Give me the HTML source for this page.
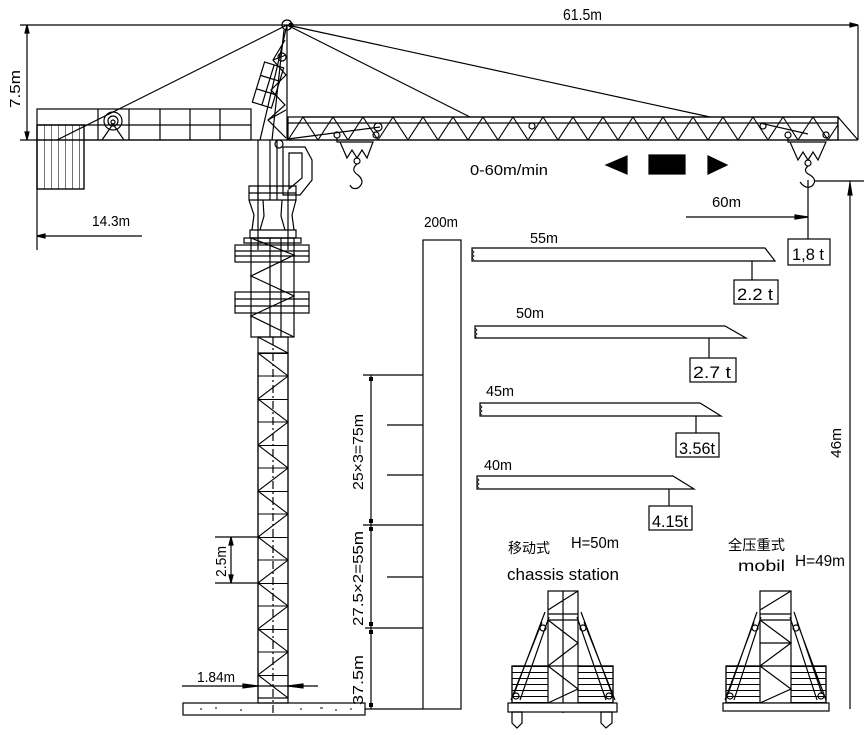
<!DOCTYPE html>
<html><head><meta charset="utf-8"><style>
html,body{margin:0;padding:0;background:#fff}
svg{display:block}
text{font-family:"Liberation Sans Narrow","Liberation Sans",sans-serif;fill:#000}
.cj{font-family:"Liberation Sans","Noto Sans CJK SC",sans-serif}
</style></head><body>
<svg width="864" height="735" viewBox="0 0 864 735" xmlns="http://www.w3.org/2000/svg" stroke="#000" stroke-width="1.2" fill="none">
<defs>
<pattern id="jib" patternUnits="userSpaceOnUse" x="288" y="117" width="30" height="23"><path d="M0,23 L15,0 L30,23" stroke="#000" stroke-width="1.1" fill="none"/></pattern>
<pattern id="mast" patternUnits="userSpaceOnUse" x="258" y="353" width="30" height="46"><path d="M0,0 L30,23 L0,46 M0,0.5 H30 M0,23 H30" stroke="#000" stroke-width="1.1" fill="none"/></pattern>
<pattern id="cw" patternUnits="userSpaceOnUse" x="37" y="0" width="7" height="10"><path d="M0,0 V10" stroke="#000" stroke-width="1.1"/></pattern>
<pattern id="bal" patternUnits="userSpaceOnUse" x="0" y="666" width="10" height="6"><path d="M0,0.5 H10" stroke="#000" stroke-width="1"/></pattern>
</defs>

<!-- top dimension -->
<line x1="20" y1="25" x2="858" y2="25"/>
<line x1="858" y1="25" x2="858" y2="140"/>
<path d="M850,23 L858,25 L850,27Z" fill="#000"/>
<text x="563" y="20" font-size="16" stroke="none" textLength="39" lengthAdjust="spacingAndGlyphs">61.5m</text>
<line x1="27" y1="25" x2="27" y2="140"/>
<path d="M25,33 L27,25 L29,33Z M25,132 L27,140 L29,132Z" fill="#000"/>
<text transform="translate(20,108) rotate(-90)" font-size="15" stroke="none" textLength="38" lengthAdjust="spacingAndGlyphs">7.5m</text>

<!-- main horizontal line -->
<line x1="20" y1="140" x2="858" y2="140"/>

<!-- counter jib -->
<rect x="37" y="109" width="214" height="31"/>
<line x1="37" y1="125" x2="251" y2="125"/>
<path d="M98,109V140 M129,109V140 M160,109V140 M190,109V140 M220,109V140"/>
<rect x="37" y="125" width="47" height="64" fill="url(#cw)"/>
<rect x="37" y="125" width="47" height="64"/>
<circle cx="113" cy="121" r="9"/><circle cx="113" cy="121" r="5"/><circle cx="113" cy="122" r="2"/>
<path d="M102,140 L113,124 L124,140"/>
<line x1="37" y1="140" x2="37" y2="250"/>
<line x1="37" y1="236" x2="142" y2="236"/>
<path d="M45,234 L37,236 L45,238Z" fill="#000"/>
<text x="92" y="226" font-size="15" stroke="none" textLength="38" lengthAdjust="spacingAndGlyphs">14.3m</text>

<!-- ties -->
<line x1="287" y1="25" x2="57" y2="140"/>
<line x1="287" y1="25" x2="470" y2="117"/>
<line x1="287" y1="25" x2="710" y2="117"/>
<circle cx="287" cy="25" r="5"/>
<circle cx="291" cy="25" r="2" fill="#000"/>

<!-- tower head -->
<line x1="287" y1="25" x2="287" y2="140"/>
<line x1="287" y1="25" x2="260" y2="140"/>
<line x1="284" y1="30" x2="272" y2="140"/>
<path d="M285,40 L273,60 L286,75 L271,90 L285,105 L268,120 L286,138 M268,120 L286,110 M273,60 L286,55"/>
<circle cx="282" cy="57" r="4"/>
<g transform="rotate(17 268 85)"><rect x="258" y="64" width="20" height="42"/><path d="M258,78H278 M258,92H278 M268,64V106"/></g>
<circle cx="279" cy="144" r="4"/>

<!-- jib truss -->
<rect x="288" y="117" width="550" height="23" fill="url(#jib)"/>
<line x1="302" y1="117" x2="838" y2="117"/>
<line x1="288" y1="123" x2="838" y2="123"/>
<path d="M838,117 L858,140 M838,117 V140"/>
<line x1="288" y1="139" x2="380" y2="127"/>
<line x1="760" y1="123" x2="808" y2="134"/>
<circle cx="378" cy="127" r="4"/><circle cx="532" cy="126" r="3"/><circle cx="763" cy="126" r="3"/>

<!-- left trolley -->
<circle cx="337" cy="135" r="3"/><circle cx="376" cy="135" r="3"/>
<path d="M337,138 V142 H373 L367,158 L362,150 L357,158 L352,150 L347,158 L340,142"/>
<circle cx="357" cy="161" r="3"/>
<path d="M357,164 Q350,170 358,175 Q366,182 358,188 Q352,190 350,185"/>

<!-- right trolley -->
<circle cx="788" cy="135" r="3"/><circle cx="826" cy="135" r="3"/>
<path d="M788,138 V142 H826 L818,160 L813,152 L808,160 L803,152 L798,160 L790,142"/>
<circle cx="808" cy="163" r="3"/>
<path d="M808,166 Q802,171 810,175 Q818,180 812,186 Q806,190 800,182"/>

<!-- speed -->
<text x="470" y="175" font-size="15" stroke="none" textLength="78" lengthAdjust="spacingAndGlyphs">0-60m/min</text>
<path d="M606,165 L627,156 L627,174Z" fill="#000"/>
<rect x="649" y="155" width="36" height="19" fill="#000"/>
<path d="M727,165 L708,156 L708,174Z" fill="#000"/>

<!-- 60m / 1.8t / 46m -->
<line x1="808" y1="180" x2="808" y2="239"/>
<line x1="686" y1="217" x2="808" y2="217"/>
<path d="M795,215 L808,217 L795,219Z" fill="#000"/>
<text x="712" y="207" font-size="15" stroke="none" textLength="29" lengthAdjust="spacingAndGlyphs">60m</text>
<rect x="788" y="239" width="42" height="26"/>
<text x="792" y="260" font-size="17" stroke="none" textLength="32" lengthAdjust="spacingAndGlyphs">1,8 t</text>
<line x1="815" y1="181" x2="864" y2="181"/>
<line x1="850" y1="181" x2="850" y2="709"/>
<path d="M848,195 L850,183 L852,195Z" fill="#000"/>
<text transform="translate(841,458) rotate(-90)" font-size="15" stroke="none" textLength="30" lengthAdjust="spacingAndGlyphs">46m</text>

<!-- cab -->
<path d="M283,147 H305 L312,160 V180 L300,195 H283Z"/>
<path d="M289,153 H302 V178 L289,189Z"/>
<!-- mast upper -->
<path d="M258,140 V250 M270,140 V190 M277,140 V190 M288,190 V250"/>
<path d="M249,186 H296 V200 H249Z M249,193 H296 M258,186V200 M270,186V200 M277,186V200"/>
<path d="M249,200 L254,215 L252,230 M263,200 L264,216 L260,230 M282,200 L281,216 L285,230 M296,200 L292,215 L294,230"/>
<path d="M250,230 H296 V238 H250Z"/>
<rect x="244" y="238" width="57" height="5"/>
<rect x="251" y="238" width="43" height="99"/>
<rect x="235" y="245" width="74" height="17"/><line x1="235" y1="251" x2="309" y2="251"/><line x1="235" y1="256" x2="309" y2="256"/>
<rect x="235" y="292" width="74" height="21"/><line x1="235" y1="299" x2="309" y2="299"/><line x1="235" y1="306" x2="309" y2="306"/>
<path d="M251,238 L294,255 L251,276 L294,296 L251,316 L294,337"/>
<line x1="270" y1="238" x2="270" y2="337"/><line x1="281" y1="238" x2="281" y2="337"/>
<!-- mast lower -->
<rect x="258" y="337" width="30" height="366"/>
<rect x="258" y="353" width="30" height="345" fill="url(#mast)"/>
<path d="M258,337 L288,353" />
<line x1="273" y1="337" x2="273" y2="715" stroke-dasharray="8,3,2,3"/>
<!-- ground -->
<rect x="183" y="703" width="182" height="12"/>
<path d="M200,709h2 M215,708h2 M240,710h2 M300,709h2 M320,708h3 M335,710h2 M350,709h2" stroke-width="1"/>
<!-- 2.5m -->
<path d="M215,537 H260 M215,583 H260 M231,537 V583"/>
<path d="M229,545 L231,537 L233,545Z M229,575 L231,583 L233,575Z" fill="#000"/>
<text transform="translate(226,577) rotate(-90)" font-size="15" stroke="none" textLength="31" lengthAdjust="spacingAndGlyphs">2.5m</text>
<!-- 1.84m -->
<line x1="182" y1="686" x2="318" y2="686"/>
<path d="M243,684 L258,686 L243,688Z M303,684 L288,686 L303,688Z" fill="#000"/>
<text x="197" y="682" font-size="15" stroke="none" textLength="38" lengthAdjust="spacingAndGlyphs">1.84m</text>

<!-- height chart -->
<rect x="423" y="240" width="38" height="469"/>
<text x="424" y="227" font-size="15" stroke="none" textLength="34" lengthAdjust="spacingAndGlyphs">200m</text>
<line x1="371" y1="375" x2="371" y2="709"/>
<path d="M363,375H423 M363,525H423 M365,628H423 M365,709H423 M387,425H423 M387,475H423 M387,577H423"/>
<path d="M369,377h4v4h-4z M369,519h4v4h-4z M369,527h4v4h-4z M369,622h4v4h-4z M369,630h4v4h-4z M369,703h4v4h-4z" fill="#000" stroke="none"/>
<text transform="translate(363,490) rotate(-90)" font-size="15" stroke="none" textLength="76" lengthAdjust="spacingAndGlyphs">25×3=75m</text>
<text transform="translate(363,626) rotate(-90)" font-size="15" stroke="none" textLength="95" lengthAdjust="spacingAndGlyphs">27.5×2=55m</text>
<text transform="translate(363,705) rotate(-90)" font-size="15" stroke="none" textLength="50" lengthAdjust="spacingAndGlyphs">37.5m</text>

<!-- jib options -->
<path d="M472,248 H765 L775,261 H472 Z"/>
<path d="M472,250 l2,2 l-2,2 l2,2 l-2,2 l2,2" stroke-width="0.8"/>
<text x="530" y="243" font-size="15" stroke="none" textLength="28" lengthAdjust="spacingAndGlyphs">55m</text>
<line x1="752" y1="261" x2="752" y2="280"/>
<rect x="734" y="280" width="44" height="24"/>
<text x="737" y="300" font-size="17" stroke="none" textLength="36" lengthAdjust="spacingAndGlyphs">2.2 t</text>

<path d="M475,326 H725 L746,338 H475 Z"/>
<path d="M475,328 l2,2 l-2,2 l2,2 l-2,2 l2,2" stroke-width="0.8"/>
<text x="516" y="318" font-size="15" stroke="none" textLength="28" lengthAdjust="spacingAndGlyphs">50m</text>
<line x1="709" y1="338" x2="709" y2="358"/>
<rect x="690" y="358" width="46" height="24"/>
<text x="693" y="378" font-size="17" stroke="none" textLength="38" lengthAdjust="spacingAndGlyphs">2.7 t</text>

<path d="M480,403 H700 L721,416 H480 Z"/>
<path d="M480,405 l2,2 l-2,2 l2,2 l-2,2 l2,2" stroke-width="0.8"/>
<text x="486" y="396" font-size="15" stroke="none" textLength="28" lengthAdjust="spacingAndGlyphs">45m</text>
<line x1="696" y1="416" x2="696" y2="433"/>
<rect x="676" y="433" width="43" height="24"/>
<text x="679" y="454" font-size="17" stroke="none" textLength="36" lengthAdjust="spacingAndGlyphs">3.56t</text>

<path d="M477,476 H673 L694,489 H477 Z"/>
<path d="M477,478 l2,2 l-2,2 l2,2 l-2,2 l2,2" stroke-width="0.8"/>
<text x="484" y="470" font-size="15" stroke="none" textLength="28" lengthAdjust="spacingAndGlyphs">40m</text>
<line x1="669" y1="489" x2="669" y2="506"/>
<rect x="649" y="506" width="43" height="24"/>
<text x="652" y="527" font-size="17" stroke="none" textLength="36" lengthAdjust="spacingAndGlyphs">4.15t</text>

<!-- mini crane left -->
<text class="cj" x="508" y="553" font-size="14" stroke="none" textLength="42" lengthAdjust="spacingAndGlyphs">移动式</text>
<text x="571" y="548" font-size="16" stroke="none" textLength="48" lengthAdjust="spacingAndGlyphs">H=50m</text>
<text x="507" y="580" font-size="17" stroke="none" textLength="112" lengthAdjust="spacingAndGlyphs">chassis station</text>
<rect x="512" y="666" width="101" height="37" fill="url(#bal)"/>
<rect x="512" y="666" width="101" height="37"/>
<rect x="548" y="591" width="30" height="112" fill="#fff"/>
<path d="M548,614H578 M548,620H578 M563,591V713 M548,610 L578,591 M548,620 L578,643 L548,666 L578,689 L548,703 M548,666H578"/>
<path d="M545,612 L514,694 M549,617 L520,700 M542,622 L511,700 M581,612 L612,694 M577,617 L606,700 M584,622 L615,700"/>
<circle cx="543" cy="628" r="3"/><circle cx="583" cy="628" r="3"/><circle cx="516" cy="696" r="3"/><circle cx="609" cy="696" r="3"/>
<rect x="508" y="703" width="109" height="9" fill="#fff"/>
<path d="M512,712 H522 V723 L517,728 L512,723Z M601,712 H612 V723 L606,728 L601,723Z"/>
<!-- mini crane right -->
<text class="cj" x="728" y="550" font-size="14" stroke="none" textLength="57" lengthAdjust="spacingAndGlyphs">全压重式</text>
<text x="738" y="571" font-size="16" stroke="none" textLength="47" lengthAdjust="spacingAndGlyphs">mobil</text>
<text x="795" y="566" font-size="16" stroke="none" textLength="50" lengthAdjust="spacingAndGlyphs">H=49m</text>
<rect x="726" y="666" width="100" height="37" fill="url(#bal)"/>
<rect x="726" y="666" width="100" height="37"/>
<rect x="760" y="591" width="31" height="112" fill="#fff"/>
<path d="M760,614H791 M760,620H791 M760,610 L791,591 M760,620 L791,643 L760,666 L791,689 L760,703 M760,666H791 M760,643H791"/>
<path d="M757,612 L728,694 M761,617 L734,700 M754,622 L725,700 M794,612 L822,694 M790,617 L817,700 M797,622 L826,700"/>
<circle cx="755" cy="628" r="3"/><circle cx="796" cy="628" r="3"/><circle cx="730" cy="696" r="3"/><circle cx="821" cy="696" r="3"/>
<rect x="723" y="703" width="106" height="8" fill="#fff"/>
</svg>
</body></html>
